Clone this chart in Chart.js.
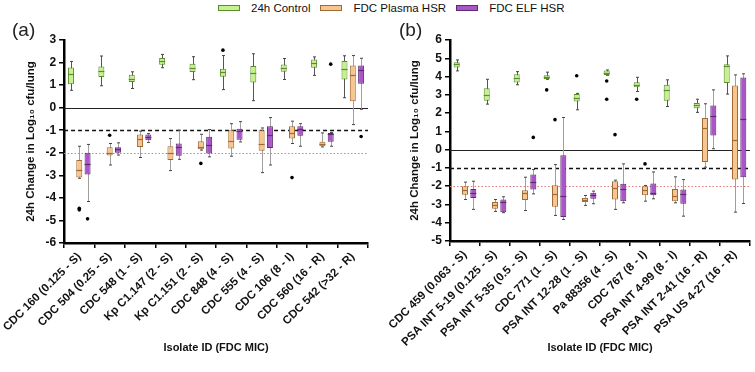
<!DOCTYPE html>
<html>
<head>
<meta charset="utf-8">
<script src="https://cdn.jsdelivr.net/npm/chart.js@4.4.1/dist/chart.umd.min.js"></script>
<style>
    html, body { margin: 0; padding: 0; background: #fff; }
    body { width: 755px; height: 372px; position: relative; overflow: hidden; font-family: "Liberation Sans", Arial, sans-serif; color: #111; }
    .panel { position: absolute; top: 0; height: 372px; width: 375px; }
    .tag { position: absolute; font-size: 19px; line-height: 1; color: #222; }
    .legend { position: absolute; top: 2px; left: 218px; display: flex; align-items: center; font-size: 11.5px; white-space: nowrap; }
    .legend .sw { width: 20px; height: 4px; border: 1px solid; margin-right: 11px; }
    .legend .item { display: flex; align-items: center; margin-right: 10px; }
</style>
</head>
<body>
<div class="legend">
    <div class="item"><span class="sw" style="background:#c6f28e;border-color:#5b8c2e"></span>24h Control</div>
    <div class="item"><span class="sw" style="background:#f7c58f;border-color:#a06a35"></span>FDC Plasma HSR</div>
    <div class="item"><span class="sw" style="background:#aa55c8;border-color:#5e2a70"></span>FDC ELF HSR</div>
</div>
<div class="panel" style="left:0"><canvas id="chartA"></canvas></div>
<div class="panel" style="left:380px"><canvas id="chartB"></canvas></div>
<div class="tag" style="left:12px;top:20px">(a)</div>
<div class="tag" style="left:399px;top:20px">(b)</div>
<script>
// ---- data: each entry is [min, q1, median, q3, max] in log10 cfu/lung ----
const seriesNames = ['24h Control', 'FDC Plasma HSR', 'FDC ELF HSR'];

const isolatesA = ['CDC 160 (0.125 - S)', 'CDC 504 (0.25 - S)', 'CDC 548 (1 - S)', 'Kp C1.147 (2 - S)',
    'Kp C1.151 (2 - S)', 'CDC 848 (4 - S)', 'CDC 555 (4 - S)', 'CDC 106 (8 - I)', 'CDC 560 (16 - R)', 'CDC 542 (>32 - R)'];

const controlA = [
    [0.77, 1.04, 1.51, 1.78, 2.05], [0.97, 1.36, 1.61, 1.82, 2.29], [0.85, 1.14, 1.27, 1.46, 1.59],
    [1.77, 1.90, 2.08, 2.20, 2.36], [1.24, 1.58, 1.77, 1.95, 2.26], [0.80, 1.37, 1.56, 1.72, 2.31],
    [0.31, 1.12, 1.55, 1.85, 2.39], [1.25, 1.59, 1.76, 1.91, 2.18], [1.43, 1.77, 1.96, 2.14, 2.25],
    [0.44, 1.25, 1.70, 2.07, 2.30]
];
const plasmaA = [
    [-3.13, -3.10, -2.76, -2.32, -1.71], [-2.54, -2.12, -1.99, -1.76, -1.59], [-2.21, -1.74, -1.41, -1.19, -1.04],
    [-2.79, -2.32, -2.00, -1.71, -1.37], [-1.88, -1.84, -1.76, -1.49, -1.18], [-2.15, -1.81, -1.49, -1.00, -0.71],
    [-2.88, -1.91, -1.59, -1.00, -0.90], [-1.59, -1.37, -1.12, -0.82, -0.60], [-1.74, -1.71, -1.60, -1.51, -1.12],
    [-0.75, 0.29, 1.46, 1.87, 2.31]
];
const elfA = [
    [-4.16, -2.96, -2.51, -2.00, -1.63], [-2.10, -2.00, -1.85, -1.76, -1.56], [-1.54, -1.44, -1.29, -1.19, -1.15],
    [-2.29, -2.13, -1.74, -1.59, -1.00], [-2.18, -2.03, -1.66, -1.29, -0.97], [-1.52, -1.42, -1.02, -0.93, -0.62],
    [-2.54, -1.79, -1.22, -0.82, -0.44], [-1.71, -1.24, -0.96, -0.82, -0.71], [-1.71, -1.51, -1.15, -1.12, -1.10],
    [-0.07, 1.06, 1.65, 1.87, 2.19]
];
// outliers: [isolate index, series index, value]
const outliersA = [
    [0, 1, -4.53], [0, 1, -4.46], [0, 2, -4.93], [1, 1, -1.22], [4, 1, -2.47],
    [5, 0, 2.55], [7, 1, -3.10], [8, 2, 1.93], [9, 2, -1.28]
];

const isolatesB = ['CDC 459 (0.063 - S)', 'PSA INT 5-19 (0.125 - S)', 'PSA INT 5-35 (0.5 - S)', 'CDC 771 (1 - S)',
    'PSA INT 12-28 (1 - S)', 'Pa 88356 (4 - S)', 'CDC 767 (8 - I)', 'PSA INT 4-99 (8 - I)', 'PSA INT 2-41 (16 - R)', 'PSA US 4-27 (16 - R)'];

const controlB = [
    [4.31, 4.49, 4.67, 4.78, 4.91], [2.49, 2.67, 3.00, 3.36, 3.85], [3.55, 3.67, 3.91, 4.13, 4.27],
    [3.85, 3.87, 3.99, 4.07, 4.24], [2.18, 2.64, 2.85, 3.04, 3.08], [4.07, 4.09, 4.22, 4.33, 4.36],
    [3.18, 3.42, 3.55, 3.69, 3.96], [2.36, 2.67, 3.27, 3.55, 3.82], [2.04, 2.27, 2.42, 2.55, 2.76],
    [3.04, 3.64, 4.55, 4.67, 5.13]
];
const plasmaB = [
    [-2.73, -2.47, -2.22, -2.00, -1.78], [-3.38, -3.24, -3.05, -2.87, -2.73], [-3.33, -2.76, -2.40, -2.22, -1.51],
    [-3.60, -3.13, -2.45, -1.95, -0.82], [-3.05, -2.87, -2.76, -2.64, -2.51], [-3.27, -2.73, -2.09, -1.73, -1.67],
    [-2.82, -2.49, -2.22, -2.00, -1.96], [-2.91, -2.82, -2.55, -2.15, -1.49], [-0.96, -0.67, 1.18, 1.73, 2.51],
    [-3.42, -1.64, 0.51, 3.51, 4.09]
];
const elfB = [
    [-3.27, -2.64, -2.36, -2.15, -1.73], [-3.45, -3.42, -2.87, -2.73, -2.58], [-2.42, -2.18, -1.78, -1.36, -1.09],
    [-3.82, -3.69, -2.55, -0.31, 1.76], [-2.96, -2.69, -2.50, -2.36, -2.27], [-2.91, -2.82, -2.13, -1.87, -0.78],
    [-2.69, -2.49, -2.40, -1.85, -1.22], [-3.64, -2.96, -2.42, -2.18, -1.64], [0.05, 0.78, 1.85, 2.42, 3.27],
    [-2.95, -1.51, 1.67, 3.95, 4.15]
];
const outliersB = [
    [2, 2, 0.67], [3, 0, 3.27], [3, 1, 1.64], [4, 0, 4.04], [5, 0, 3.76], [5, 0, 2.76],
    [5, 1, 0.82], [6, 0, 2.76], [6, 1, -0.78]
];

const yRangeA = [-6, 3];
const yRangeB = [-5, 6];
const refValues = [0, -1, -2];

// ---- styles ----
const fills = ['#c6f28e', '#f7c58f', '#aa55c8'];
const borders = ['#5b8c2e', '#a06a35', '#5e2a70'];
const whiskers = ['#555', '#a0a0a0', '#a0a0a0'];
const refStyles = [
    { color: '#222', dash: [], width: 1 },
    { color: '#111', dash: [4, 3], width: 1.5 },
    { color: '#e07a7a', dash: [1.5, 2], width: 1 }
];

const boxPlugin = {
    id: 'boxExtras',
    beforeDatasetsDraw(chart) {
        const { ctx, chartArea: area, scales: { y } } = chart;
        ctx.save();
        // reference lines
        refValues.forEach((v, i) => {
            const st = refStyles[i];
            const py = Math.round(y.getPixelForValue(v)) + 0.5;
            ctx.strokeStyle = st.color;
            ctx.lineWidth = st.width;
            ctx.setLineDash(st.dash);
            ctx.beginPath();
            ctx.moveTo(area.left, py);
            ctx.lineTo(area.right, py);
            ctx.stroke();
        });
        ctx.setLineDash([]);
        // whiskers
        chart.data.datasets.forEach((ds, i) => {
            chart.getDatasetMeta(i).data.forEach((bar, j) => {
                const s = ds.stats[j];
                const x = Math.round(bar.x) + 0.5;
                const yMin = y.getPixelForValue(s[0]);
                const yMax = y.getPixelForValue(s[4]);
                ctx.strokeStyle = whiskers[i];
                ctx.lineWidth = 1;
                ctx.beginPath();
                ctx.moveTo(x, yMin);
                ctx.lineTo(x, yMax);
                ctx.stroke();
                ctx.strokeStyle = '#444';
                ctx.beginPath();
                ctx.moveTo(x - 1.5, yMin); ctx.lineTo(x + 1.5, yMin);
                ctx.moveTo(x - 1.5, yMax); ctx.lineTo(x + 1.5, yMax);
                ctx.stroke();
            });
        });
        ctx.restore();
    },
    afterDatasetsDraw(chart, args, opts) {
        const { ctx, scales: { y } } = chart;
        ctx.save();
        chart.data.datasets.forEach((ds, i) => {
            chart.getDatasetMeta(i).data.forEach((bar, j) => {
                const py = Math.round(y.getPixelForValue(ds.stats[j][2])) + 0.5;
                const half = bar.width / 2;
                ctx.strokeStyle = borders[i];
                ctx.lineWidth = 1.2;
                ctx.beginPath();
                ctx.moveTo(bar.x - half, py);
                ctx.lineTo(bar.x + half, py);
                ctx.stroke();
            });
        });
        ctx.fillStyle = '#000';
        (opts.outliers || []).forEach(o => {
            const bar = chart.getDatasetMeta(o[1]).data[o[0]];
            ctx.beginPath();
            ctx.arc(bar.x, y.getPixelForValue(o[2]), 1.8, 0, Math.PI * 2);
            ctx.fill();
        });
        ctx.restore();
    }
};

function makeChart(id, labels, groups, outliers, yRange, cfg) {
    const datasets = groups.map((g, i) => ({
        label: seriesNames[i],
        data: g.map(s => [s[1], s[3]]),
        stats: g,
        backgroundColor: fills[i],
        borderColor: borders[i],
        borderWidth: 1,
        borderSkipped: false,
        categoryPercentage: cfg.catPct,
        barPercentage: 0.72
    }));

    return new Chart(document.getElementById(id), {
        type: 'bar',
        data: { labels: labels, datasets: datasets },
        plugins: [boxPlugin],
        options: {
            responsive: true,
            maintainAspectRatio: false,
            animation: false,
            layout: { padding: { top: 40, right: cfg.padRight, left: 0, bottom: 0 } },
            plugins: {
                legend: { display: false },
                tooltip: { enabled: false },
                boxExtras: { outliers: outliers }
            },
            scales: {
                x: {
                    afterFit: (scale) => { scale.height = cfg.xHeight; },
                    border: { color: '#000', width: 2.5 },
                    grid: { display: true, drawOnChartArea: false, color: '#000', lineWidth: 1.5, tickLength: 5 },
                    ticks: {
                        autoSkip: false,
                        minRotation: 45,
                        maxRotation: 45,
                        padding: 2,
                        color: '#111',
                        font: { family: 'Liberation Sans', size: 11.5, weight: 'bold' }
                    },
                    title: {
                        display: true,
                        text: 'Isolate ID (FDC MIC)',
                        color: '#111',
                        padding: { top: 0, bottom: 17 },
                        font: { family: 'Liberation Sans', size: 11, weight: 'bold' }
                    }
                },
                y: {
                    min: yRange[0],
                    max: yRange[1],
                    afterFit: (scale) => { scale.width = cfg.yWidth; },
                    border: { color: '#000', width: 2.5 },
                    grid: { display: true, drawOnChartArea: false, color: '#000', lineWidth: 1.5, tickLength: 5 },
                    ticks: {
                        stepSize: 1,
                        padding: 3,
                        color: '#111',
                        font: { family: 'Liberation Sans', size: 12, weight: 'bold' }
                    },
                    title: {
                        display: true,
                        text: '24h Change in Log₁₀ cfu/lung',
                        color: '#111',
                        padding: { top: cfg.yTitlePad, bottom: 0 },
                        font: { family: 'Liberation Sans', size: 11.5, weight: 'bold' }
                    }
                }
            }
        }
    });
}

makeChart('chartA', isolatesA, [controlA, plasmaA, elfA], outliersA, yRangeA,
    { catPct: 0.82, padRight: 7, xHeight: 129, yWidth: 63, yTitlePad: 23 });
makeChart('chartB', isolatesB, [controlB, plasmaB, elfB], outliersB, yRangeB,
    { catPct: 0.83, padRight: 5, xHeight: 131, yWidth: 70, yTitlePad: 28 });
</script>
</body>
</html>
